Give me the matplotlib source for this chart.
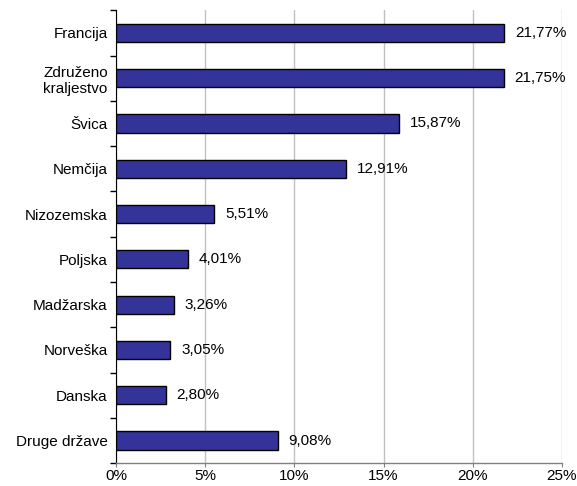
import matplotlib.pyplot as plt
import numpy as np

countries = ['Francija', 'Združeno\nkraljestvo', 'Švica', 'Nemčija', 'Nizozemska',
             'Poljska', 'Madžarska', 'Norveška', 'Danska', 'Druge države']
shares = [21.77, 21.75, 15.87, 12.91, 5.51, 4.01, 3.26, 3.05, 2.80, 9.08]
x_ticks = [0, 5, 10, 15, 20, 25]

plt.rcParams['font.family'] = ['Liberation Sans', 'DejaVu Sans']

fig = plt.figure(figsize=(5.77, 4.86), dpi=100)
ax = fig.add_axes([0.201, 0.047, 0.773, 0.932])

y = np.arange(len(countries))
ax.barh(y, shares, height=0.4, color='#333399', edgecolor='black', linewidth=1, zorder=3)

for yi, v in zip(y, shares):
    ax.text(v + 0.6, yi, f'{v:.2f}%'.replace('.', ','), va='center', ha='left', fontsize=11)

ax.set_xlim(0, 25)
ax.set_ylim(len(countries) - 0.5, -0.5)
ax.set_xticks(x_ticks)
ax.set_xticklabels([f'{t}%' for t in x_ticks], fontsize=11)
ax.grid(axis='x', color='#c0c0c0', linewidth=1, zorder=0)

# category labels centred, tick marks at the boundaries
ax.set_yticks(y)
ax.set_yticklabels(countries, fontsize=11, multialignment='center')
ax.tick_params(axis='y', length=0, pad=6)
ax.set_yticks(np.arange(len(countries) + 1) - 0.5, minor=True)
ax.tick_params(axis='y', which='minor', length=4, color='black', width=1)
ax.tick_params(axis='x', length=3, color='#808080', pad=1)

for s in ['top', 'right']:
    ax.spines[s].set_visible(False)
ax.spines['left'].set_color('black')
ax.spines['bottom'].set_color('#808080')
ax.spines['bottom'].set_linewidth(1)

fig.savefig('out.png', dpi=100)
